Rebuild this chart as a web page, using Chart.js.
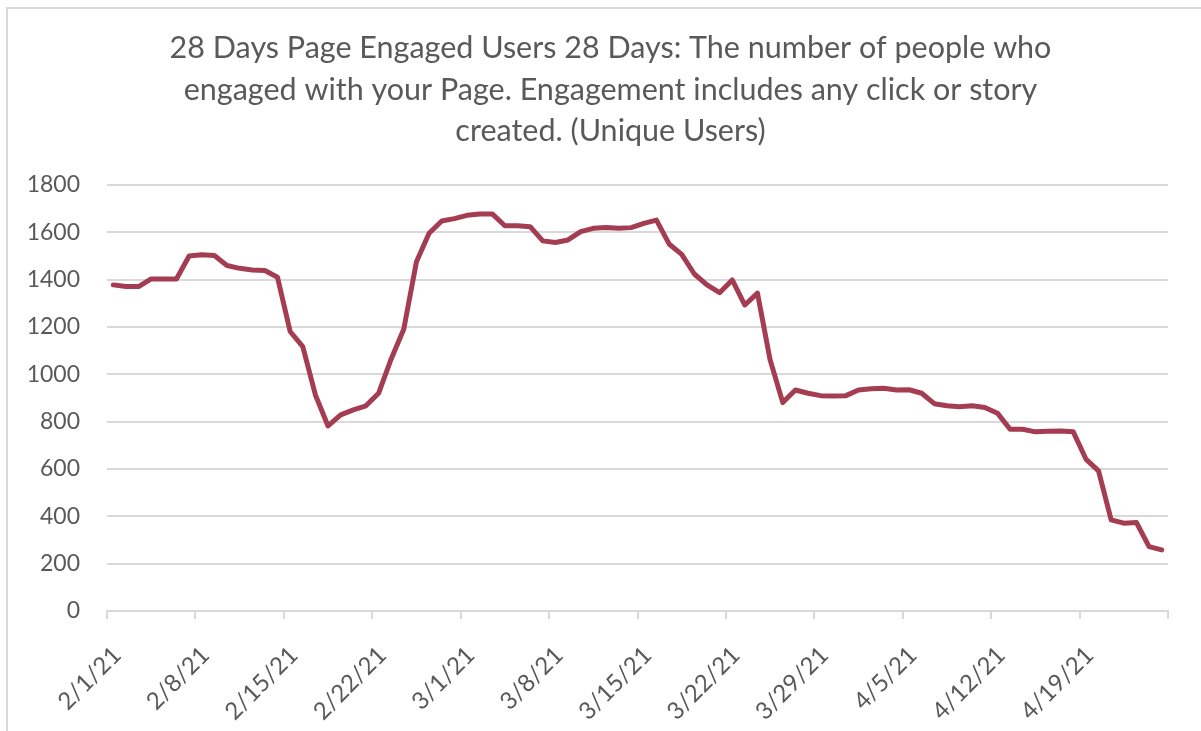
<!DOCTYPE html>
<html>
<head>
<meta charset="utf-8">
<script src="https://cdn.jsdelivr.net/npm/chart.js@4.4.1/dist/chart.umd.min.js"></script>
<style>
  html, body { margin: 0; padding: 0; background: #fff; overflow: hidden; width: 1201px; height: 731px; }
  #frame { position: absolute; left: 6px; top: 7px; width: 1205px; height: 730px; border: 2px solid #d9d9d9; background: #fff; }
  canvas { display: block; }
</style>
</head>
<body>
<div id="frame"><canvas id="c" width="1205" height="730"></canvas></div>
<script>
// Daily dates shown on the time axis
const days = [
  "2/1/21","2/2/21","2/3/21","2/4/21","2/5/21","2/6/21","2/7/21",
  "2/8/21","2/9/21","2/10/21","2/11/21","2/12/21","2/13/21","2/14/21",
  "2/15/21","2/16/21","2/17/21","2/18/21","2/19/21","2/20/21","2/21/21",
  "2/22/21","2/23/21","2/24/21","2/25/21","2/26/21","2/27/21","2/28/21",
  "3/1/21","3/2/21","3/3/21","3/4/21","3/5/21","3/6/21","3/7/21",
  "3/8/21","3/9/21","3/10/21","3/11/21","3/12/21","3/13/21","3/14/21",
  "3/15/21","3/16/21","3/17/21","3/18/21","3/19/21","3/20/21","3/21/21",
  "3/22/21","3/23/21","3/24/21","3/25/21","3/26/21","3/27/21","3/28/21",
  "3/29/21","3/30/21","3/31/21","4/1/21","4/2/21","4/3/21","4/4/21",
  "4/5/21","4/6/21","4/7/21","4/8/21","4/9/21","4/10/21","4/11/21",
  "4/12/21","4/13/21","4/14/21","4/15/21","4/16/21","4/17/21","4/18/21",
  "4/19/21","4/20/21","4/21/21","4/22/21","4/23/21","4/24/21","4/25/21"
];

// 28-day engaged users, one value per day
const engagedUsers = [
  1378, 1371, 1371, 1403, 1403, 1403, 1500,
  1505, 1502, 1460, 1448, 1441, 1439, 1410,
  1181, 1117,  913,  782,  829,  850,  867,
   920, 1065, 1192, 1476, 1596, 1648, 1658,
  1672, 1678, 1678, 1628, 1628, 1624, 1564,
  1557, 1568, 1603, 1617, 1621, 1617, 1620,
  1638, 1652, 1551, 1507, 1424, 1378, 1345,
  1399, 1293, 1343, 1061,  881,  934,  920,
   910,  908,  910,  934,  939,  941,  934,
   935,  920,  876,  867,  863,  867,  860,
   836,  768,  768,  757,  760,  761,  757,
   642,  592,  385,  371,  374,  272,  258
];

const titleLines = [
  "28 Days Page Engaged Users 28 Days: The number of people who",
  "engaged with your Page. Engagement includes any click or story",
  "created. (Unique Users)"
];

const yMin = 0, yMax = 1800, yStep = 200;
const weekStep = 7;

const textColor = '#595959';
const gridColor = '#d9d9d9';
const lineColor = '#A43D52';

// Date axis: each day fills one slot, the point sits in the middle of its slot,
// weekly tick marks fall on the slot boundaries.
const points = engagedUsers.map((v, i) => ({ x: i + 0.5, y: v }));

new Chart(document.getElementById('c'), {
  type: 'line',
  data: {
    datasets: [{
      data: points,
      borderColor: lineColor,
      borderWidth: 5,
      pointRadius: 0,
      tension: 0,
      borderJoinStyle: 'round',
      borderCapStyle: 'round',
      fill: false
    }]
  },
  options: {
    responsive: false,
    animation: false,
    layout: { padding: 0 },
    plugins: {
      legend: { display: false },
      tooltip: { enabled: false },
      title: {
        display: true,
        text: titleLines,
        color: textColor,
        font: { family: 'Lato', size: 30.5, weight: 'normal', lineHeight: 1.35 },
        padding: { top: 19, bottom: 33.5 }
      }
    },
    scales: {
      x: {
        type: 'linear',
        min: 0,
        max: days.length,
        afterFit: s => { s.height = 128; },
        ticks: {
          stepSize: weekStep,
          autoSkip: false,
          minRotation: 45,
          maxRotation: 45,
          padding: 22,
          labelOffset: 10,
          color: textColor,
          font: { family: 'Lato', size: 24 },
          callback: v => days[v] !== undefined ? days[v] : ''
        },
        grid: {
          display: true,
          drawOnChartArea: false,
          drawTicks: true,
          tickLength: 8,
          color: gridColor,
          lineWidth: 2
        },
        border: { display: true, color: gridColor, width: 2 }
      },
      y: {
        min: yMin,
        max: yMax,
        afterFit: s => { s.width = 99; },
        ticks: {
          stepSize: yStep,
          padding: 27,
          color: textColor,
          font: { family: 'Lato', size: 23 },
          callback: v => String(v)
        },
        grid: { color: gridColor, lineWidth: 2, drawTicks: false },
        border: { display: false }
      },
      // empty strip on the right edge of the plot
      rightGutter: {
        type: 'linear',
        position: 'right',
        display: true,
        afterFit: s => { s.width = 45; },
        ticks: { display: false },
        grid: { display: false, drawTicks: false },
        border: { display: false }
      }
    }
  }
});
</script>
</body>
</html>
